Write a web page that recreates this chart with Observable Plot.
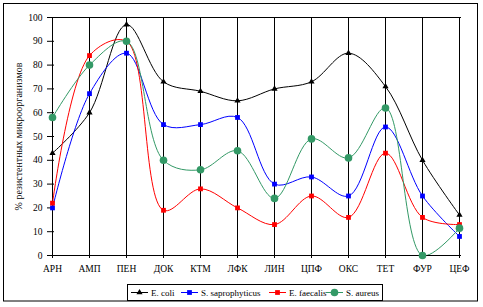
<!DOCTYPE html>
<html><head><meta charset="utf-8">
<script src="https://cdn.jsdelivr.net/npm/d3@7"></script>
<script src="https://cdn.jsdelivr.net/npm/@observablehq/plot@0.6"></script>
<style>
body{margin:0;background:#fff}
#chart svg, #chart svg text{font-family:'Liberation Serif','Times New Roman',serif !important}
</style>
</head><body><div id="chart"></div>
<script>
const categories = ["АРН","АМП","ПЕН","ДОК","КТМ","ЛФК","ЛИН","ЦПФ","ОКС","ТЕТ","ФУР","ЦЕФ"];
const seriesNames = ["E. coli","S. saprophyticus","E. faecalis","S. aureus"];
const eColi = [43,60,97,73,69,65,70,73,85,71,40,17];
const sSaprophyticus = [20,68,85,55,55,58,30,33,25,54,25,8];
const eFaecalis = [22,84,90,19,28,20,13,25,16,43,16,13];
const sAureus = [58,80,90,40,36,44,24,49,41,62,0,11.5];
const yTicks = [0,10,20,30,40,50,60,70,80,90,100];
const yLabel = "% резистентных микроорганизмов";
const colors = ["#000000","#0000ff","#ff0000","#339966"];
const symbols = ["triangle","square","square","circle"];
const sizes = [2.3,2.7,2.7,3.8];

const seriesValues = [eColi, sSaprophyticus, eFaecalis, sAureus];
const rows = [];
seriesNames.forEach((s, i) => categories.forEach((c, j) => rows.push({series: s, cat: c, value: seriesValues[i][j], idx: i})));

const font = "'Liberation Serif', 'Times New Roman', serif";
const marks = [
  Plot.ruleX(categories, {y1: 0, y2: 100, stroke: "#000", strokeWidth: 1, shapeRendering: "crispEdges"}),
  Plot.ruleY([100], {stroke: "#000", shapeRendering: "crispEdges"}),
  Plot.ruleY([0], {stroke: "#000", shapeRendering: "crispEdges"}),
  Plot.axisY({ticks: yTicks, tickSize: 3, tickPadding: 5, label: null, fontSize: 9.5}),
  Plot.axisY({ticks: yTicks, tickSize: -4, tickFormat: () => "", label: null}),
  Plot.axisX({tickSize: 3, tickPadding: 7, label: null, fontSize: 9.5}),
  Plot.text([yLabel], {frameAnchor: "left", dx: -32, rotate: -90, fontSize: 10, text: d => d, textAnchor: "middle"})
];
seriesNames.forEach((s, i) => {
  const data = rows.filter(r => r.idx === i);
  marks.push(Plot.line(data, {x: "cat", y: "value", stroke: colors[i], strokeWidth: 1, curve: "catmull-rom", clip: true}));
});
seriesNames.forEach((s, i) => {
  const data = rows.filter(r => r.idx === i);
  marks.push(Plot.dot(data, {x: "cat", y: "value", fill: colors[i], stroke: "none", symbol: symbols[i], r: sizes[i]}));
});

const svg = Plot.plot({
  width: 483, height: 307,
  marginLeft: 50, marginRight: 22, marginTop: 17, marginBottom: 52,
  style: {fontFamily: font, fontSize: "10px", color: "#000", background: "#fff"},
  x: {type: "point", domain: categories, padding: 0},
  y: {domain: [0, 100]},
  marks
});

const g = d3.select(svg);
g.append("rect").attr("x", 3.5).attr("y", 3.5).attr("width", 474).attr("height", 297.5)
  .attr("fill", "none").attr("stroke", "#000");
const lg = g.append("g").attr("text-anchor", "start");
lg.append("rect").attr("x", 127.5).attr("y", 284.5).attr("width", 255).attr("height", 16)
  .attr("fill", "#fff").attr("stroke", "#000");
const entries = [
  {lx: 131, tx: 151},
  {lx: 181, tx: 201},
  {lx: 269, tx: 289},
  {lx: 326, tx: 346}
];
const symMap = {triangle: d3.symbolTriangle, square: d3.symbolSquare, circle: d3.symbolCircle};
entries.forEach((e, i) => {
  lg.append("line").attr("x1", e.lx).attr("x2", e.lx + 17).attr("y1", 292.5).attr("y2", 292.5)
    .attr("stroke", colors[i]).attr("stroke-width", 1);
  lg.append("path").attr("transform", `translate(${e.lx + 8.5},292.5)`)
    .attr("d", d3.symbol(symMap[symbols[i]], Math.PI * sizes[i] * sizes[i])())
    .attr("fill", colors[i]);
  lg.append("text").attr("x", e.tx).attr("y", 292.5).attr("dy", "0.35em")
    .attr("font-size", 9).attr("text-anchor", "start").text(seriesNames[i]);
});
document.getElementById("chart").appendChild(svg);
</script></body></html>
